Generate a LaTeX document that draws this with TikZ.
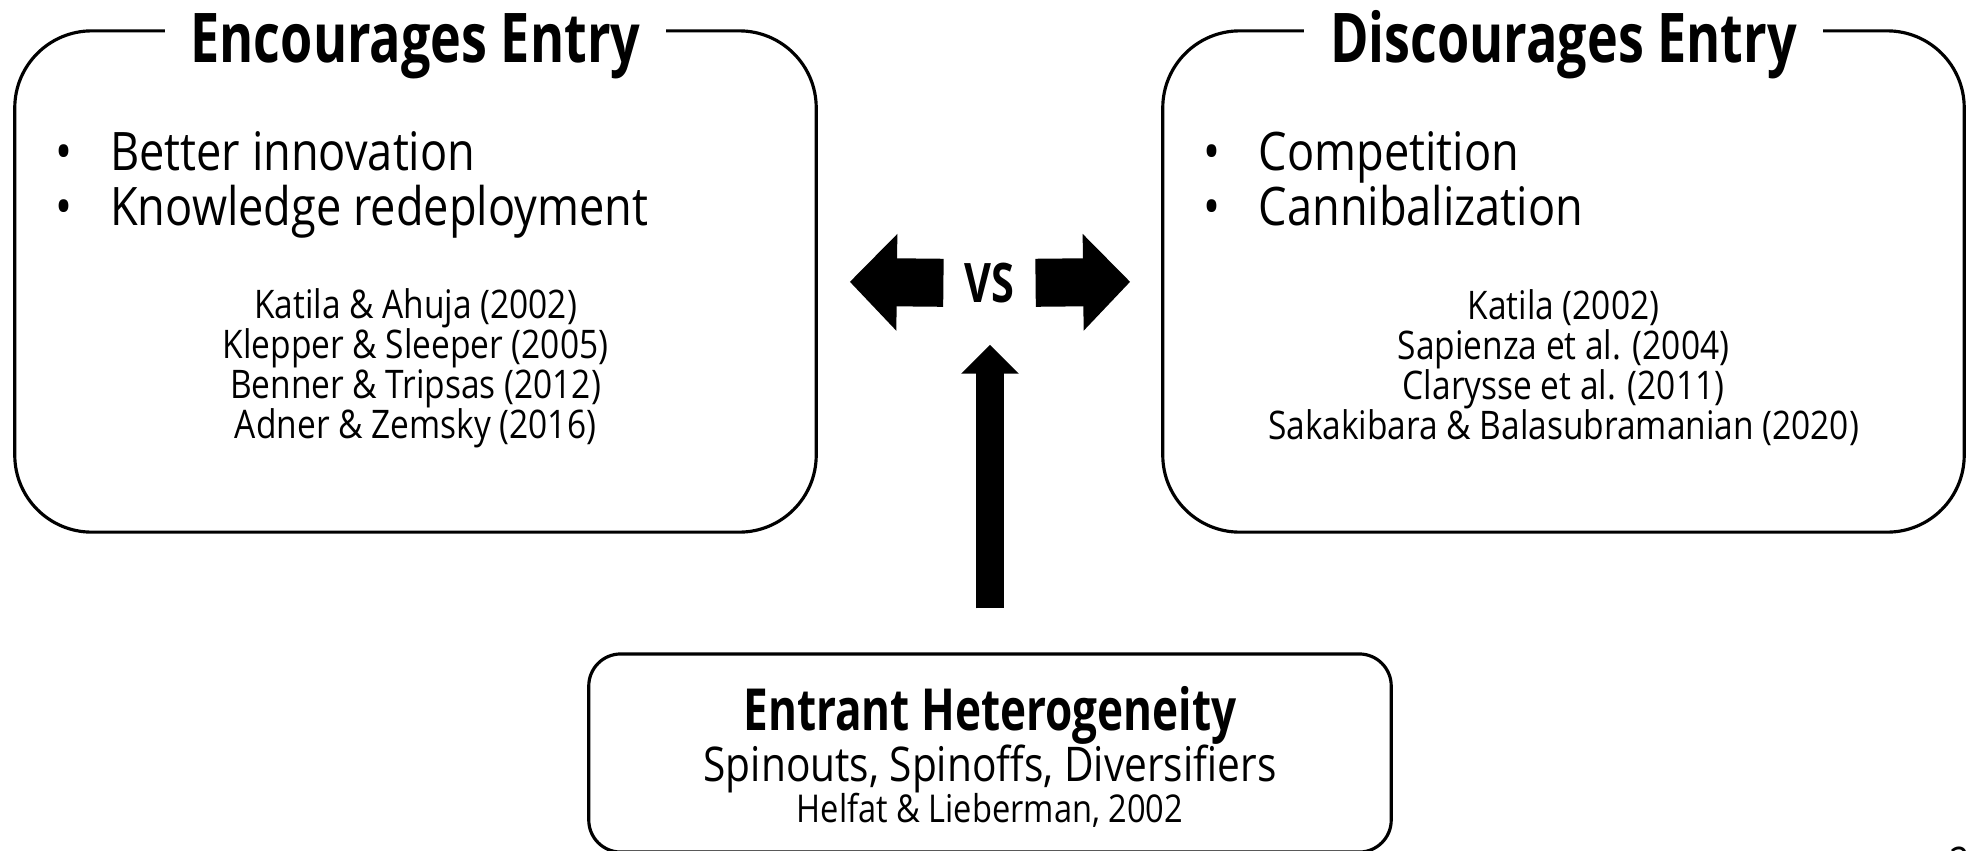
\documentclass[tikz,border=0pt]{standalone}
\usepackage{fontspec}
\setmainfont{Open Sans}[FakeStretch=0.85]
\newfontfamily\headfont{Open Sans}[FakeStretch=0.76]
\usetikzlibrary{arrows.meta}
\usetikzlibrary{positioning}
\tikzset{sidebox/.style = {draw, line width=0.9pt, rounded corners=0.77cm,
                           minimum width=8.01cm, minimum height=5.01cm}}
\tikzset{boxtitle/.style = {fill=white, inner xsep=0.26cm, inner ysep=0pt,
                            font=\headfont\bfseries\fontsize{19.5}{20}\selectfont}}
\tikzset{points/.style = {align=left, inner sep=0pt,
                          font=\fontsize{15.1}{15.65}\selectfont}}
\tikzset{refs/.style = {align=center, inner sep=0pt,
                        font=\fontsize{11.2}{11.4}\selectfont}}
\tikzset{bigarrow/.style = {line width=0.48cm,
                            -{Triangle[width=0.94cm, length=0.47cm]}}}

\begin{document}
\begin{tikzpicture}[x=0.01cm, y=-0.01cm]
      \useasboundingbox (0,0) rectangle (1968,851);
      \node [sidebox] (enc) at (415.5,281.5) {};
      \node [sidebox] (dis) at (1563.5,281.5) {};
      \node [draw, line width=0.9pt, rounded corners=0.32cm,
             minimum width=8.02cm, minimum height=1.98cm] (het) at (990,753) {};

      \node [boxtitle, anchor=base, yshift=-0.33cm] (enctitle) at (enc.north) {Encourages Entry};
      \node [boxtitle, anchor=base, yshift=-0.33cm] (distitle) at (dis.north) {Discourages Entry};

      \node [points, anchor=west] (encpts) at (55,185)
            {\makebox[0.545cm][l]{\textbullet}Better innovation\\
             \makebox[0.545cm][l]{\textbullet}Knowledge redeployment};
      \node [points, anchor=west] (dispts) at (1203,178.5)
            {\makebox[0.55cm][l]{\textbullet}Competition\\
             \makebox[0.55cm][l]{\textbullet}Cannibalization};

      \node [refs] (encrefs) at (415.5,368)
            {Katila \& Ahuja (2002)\\ Klepper \& Sleeper (2005)\\
             Benner \& Tripsas (2012)\\ Adner \& Zemsky (2016)};
      \node [refs] (disrefs) at (1563.5,368)
            {Katila (2002)\\ Sapienza et al. (2004)\\ Clarysse et al. (2011)\\
             Sakakibara \& Balasubramanian (2020)};

      \node [font=\headfont\bfseries\fontsize{15.5}{16}\selectfont, inner sep=0pt] (vs) at (989,283) {VS};

      \draw [bigarrow, shorten <=0.2cm, shorten >=0.32cm] (vs.west) -- (enc.east);
      \draw [bigarrow, shorten <=0.21cm, shorten >=0.31cm] (vs.east) -- (dis.west);
      \draw [line width=0.28cm, -{Triangle[width=0.56cm, length=0.29cm]},
             shorten <=0.44cm, shorten >=0.41cm] (het.north) -- (het.north |- vs.south);

      \node [font=\headfont\bfseries\fontsize{16.5}{17}\selectfont, inner sep=0pt, anchor=base]
            (hettitle) at (990,730) {Entrant Heterogeneity};
      \node [font=\fontsize{13.6}{14}\selectfont, inner sep=0pt, anchor=base]
            (hettypes) at (990,781) {Spinouts, Spinoffs, Diversifiers};
      \node [font=\fontsize{10.9}{11}\selectfont, inner sep=0pt, anchor=base]
            (hetref) at (990,822) {Helfat \& Lieberman, 2002};

      \node [font=\fontsize{12}{12}\selectfont, inner sep=0pt, anchor=north] (pagenum) at (1960,846) {2};
    \end{tikzpicture}
\end{document}
